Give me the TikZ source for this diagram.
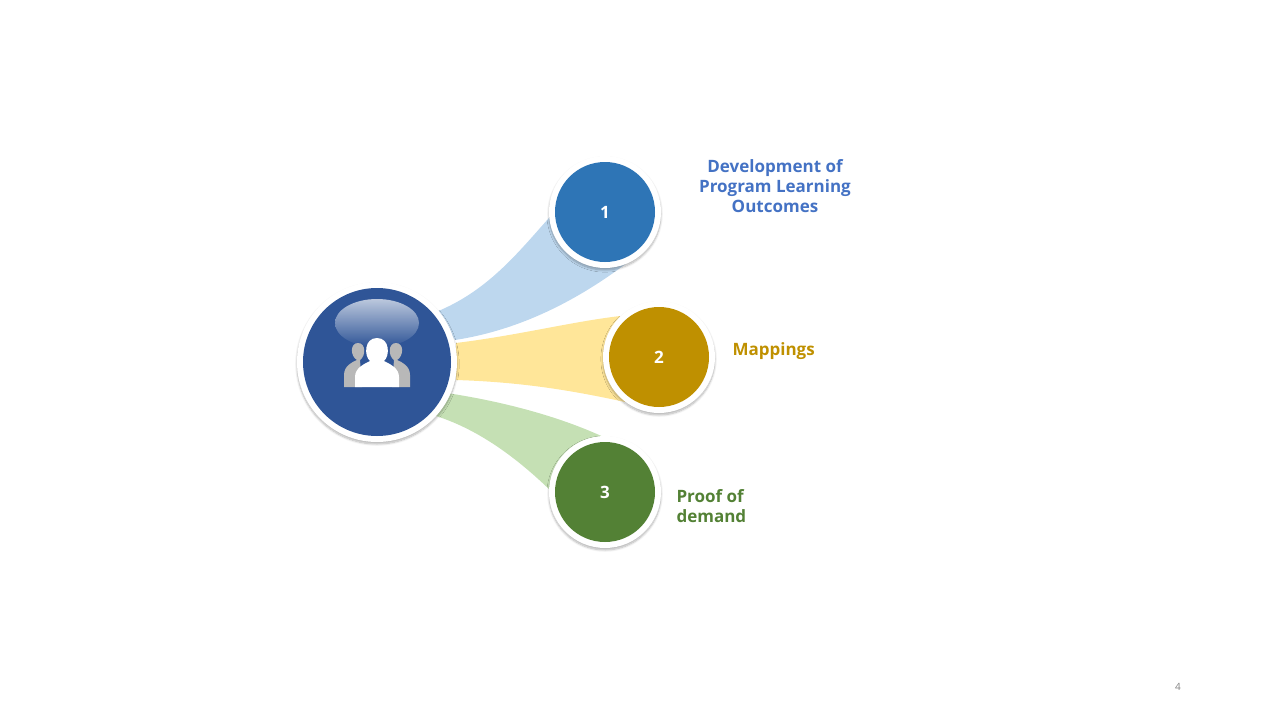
\documentclass[tikz,border=0pt]{standalone}
\usepackage{fontspec}
\setmainfont{Open Sans}
\usetikzlibrary{shadows.blur}
\definecolor{cblue}{HTML}{2E75B6}
\definecolor{cgold}{HTML}{BF9000}
\definecolor{cgreen}{HTML}{538135}
\definecolor{cmain}{HTML}{2F5597}
\definecolor{tblue}{HTML}{4472C4}
\definecolor{bblue}{HTML}{BDD7EE}
\definecolor{bgold}{HTML}{FFE699}
\definecolor{bgreen}{HTML}{C5E0B4}
\tikzset{
 ring/.style={circle,fill=white,blur shadow={shadow blur steps=8,shadow xshift=0pt,shadow yshift=-2pt,shadow opacity=30}},
 numc/.style={circle,text=white,font=\bfseries\fontsize{17}{20}\selectfont},
 lbl/.style={font=\bfseries\fontsize{17}{20}\selectfont,align=center}
}
\begin{document}
\begin{tikzpicture}[x=1pt,y=-1pt]
\useasboundingbox (0,0) rectangle (1280,720);
% bands
\fill[bblue] (436,312) .. controls (490,290) and (520,250) .. (556,210)
  -- (636,256) .. controls (580,300) and (520,330) .. (455,340) -- cycle;
\fill[bgold] (456,343) .. controls (520,335) and (570,322) .. (620,316)
  -- (625,402) .. controls (570,390) and (520,382) .. (456,380) -- cycle;
\fill[bgreen] (440,392) .. controls (510,402) and (570,420) .. (614,442)
  -- (556,496) .. controls (520,460) and (480,430) .. (436,416) -- cycle;
% central
\node[ring,minimum size=160pt] (c) at (377,362) {};
\node[circle,fill=cmain,minimum size=148pt] (ci) at (377,362) {};
\shade[top color=white!75!cmain,bottom color=cmain,opacity=0.9] (377,323) ellipse (42 and 24);
% people icon
\fill[black!28] (344,387) -- (344,375) .. controls (344,366) and (352,362) .. (357,360)
  .. controls (350,356) and (350,343) .. (358,343) .. controls (366,343) and (366,356) .. (360,360) -- (362,387) -- cycle;
\fill[black!28] (410,387) -- (410,375) .. controls (410,366) and (402,362) .. (397,360)
  .. controls (404,356) and (404,343) .. (396,343) .. controls (388,343) and (388,356) .. (394,360) -- (392,387) -- cycle;
\fill[white] (355,387) -- (355,377) .. controls (355,368) and (364,364) .. (370,361)
  .. controls (364,356) and (364,338) .. (377,338) .. controls (390,338) and (390,356) .. (384,361)
  .. controls (390,364) and (399,368) .. (399,377) -- (399,387) -- cycle;
% numbered circles
\node[ring,minimum size=112pt] (r1) at (605,212) {};
\node[numc,fill=cblue,minimum size=100pt] (n1) at (605,212) {1};
\node[ring,minimum size=112pt] (r2) at (659,357) {};
\node[numc,fill=cgold,minimum size=100pt] (n2) at (659,357) {2};
\node[ring,minimum size=112pt] (r3) at (605,492) {};
\node[numc,fill=cgreen,minimum size=100pt] (n3) at (605,492) {3};
% labels
\node[lbl,text=tblue] (l1) at (775,186) {Development of\\Program Learning\\Outcomes};
\node[lbl,text=cgold,anchor=west] (l2) at (729,351) {Mappings};
\node[lbl,text=cgreen,align=left,anchor=west] (l3) at (673,506) {Proof of\\demand};
\node[text=black!50,font=\fontsize{10}{12}\selectfont] (pg) at (1178,687) {4};
\end{tikzpicture}
\end{document}
